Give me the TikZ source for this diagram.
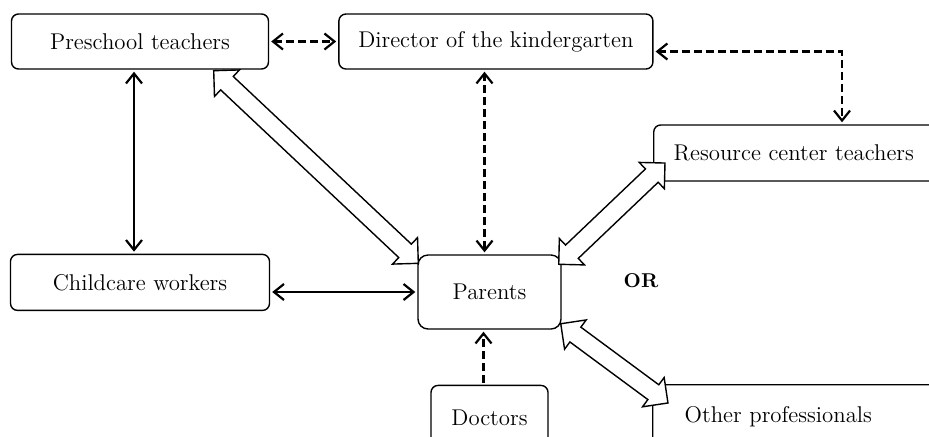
\documentclass[tikz,border=0pt]{standalone}
\usetikzlibrary{arrows.meta, calc, positioning, shapes.arrows}

\begin{document}
\begin{tikzpicture}[
        x=0.5pt, y=-0.5pt,
        font=\fontsize{11.4}{13}\selectfont,
        >={Straight Barb[length=5pt,width=8pt]},
        base/.style = {draw, line width=0.7pt, rounded corners=3.5pt,
                       inner sep=0pt, align=center},
        block/.style = {base, minimum height=27.5pt},
        sline/.style = {line width=1.1pt, <->, shorten <=1pt, shorten >=1pt},
        dline/.style = {sline, dash pattern=on 4pt off 2pt},
        bigarrow/.style = {double arrow, draw, fill=white, line width=0.7pt,
                           double arrow tip angle=90,
                           double arrow head extend=4.5pt,
                           minimum width=17.5pt, inner sep=4.25pt},
        ]
        \useasboundingbox (0,0) rectangle (929,436);
        \clip (0,0) rectangle (929,436);

        \node [block, minimum width=128.5pt] (pre) at (140,41.5) {Preschool teachers};
        \node [block, minimum width=157pt, right=34.5pt of pre] (dir) {Director of the kindergarten};
        \node [block, minimum width=129.5pt, minimum height=28pt, below=92pt of pre] (care) {Childcare workers};
        \node [base, rounded corners=5pt, minimum width=71.5pt, minimum height=37pt] (par) at (489.5,292) {Parents};
        \node [base, minimum width=58.5pt, minimum height=32pt, below=27.5pt of par] (doc) {Doctors};
        \node [base, anchor=west, text width=130pt, align=left, inner xsep=10pt,
               minimum height=28pt] (res) at (653,153) {Resource center teachers};
        \node [base, anchor=north west, text width=130pt, align=left, inner xsep=16pt,
               minimum height=32pt] (oth) at (652,384) {Other professionals};
        \node [font=\fontsize{10}{12}\selectfont\bfseries] (or) at (641,281) {OR};

        % thin links
        \draw [dline] (pre) -- (dir);
        \draw [dline] ([yshift=-5pt]dir.east) -| ([xshift=94.5pt]res.north west);
        \draw [dline] ([xshift=-2.5pt]par.north) -- ([xshift=-2.5pt]par.north |- dir.south);
        \draw [dline, ->] ([xshift=-3pt]doc.north) -- ([xshift=-3pt]doc.north |- par.south);
        \draw [sline] ([xshift=-3pt]pre.south) -- ([xshift=-3pt]pre.south |- care.north);
        \draw [sline] (care.east |- par.west) -- (par.west);

        % hollow arrows
        \coordinate (a1) at ($(pre.south east)+(-55.5,1)$);
        \coordinate (a2) at ($(par.north west)+(1,9)$);
        \coordinate (b1) at ($(par.north east)+(-3,10)$);
        \coordinate (b2) at ($(res.west)+(12,10)$);
        \coordinate (c1) at ($(par.south east)+(-1,-6)$);
        \coordinate (c2) at ($(oth.north west)+(16,19)$);
        \foreach \a/\b in {a1/a2, b1/b2, c1/c2}
            \path let \p1 = ($(\b)-(\a)$), \n1 = {atan2(\y1,\x1)},
                      \n2 = {veclen(\x1,\y1)} in
                node [bigarrow, minimum height=\n2, rotate=\n1]
                    (arr-\a) at ($(\a)!0.5!(\b)$) {};
\end{tikzpicture}
\end{document}
